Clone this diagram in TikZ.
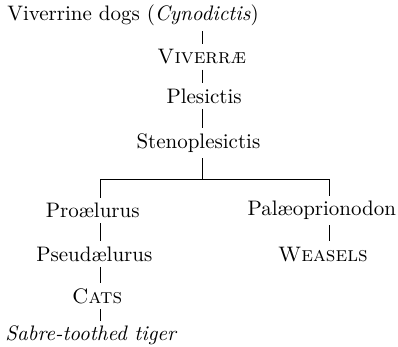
\documentclass[tikz,border=0pt]{standalone}
\usetikzlibrary{positioning,calc}
\begin{document}
\begin{tikzpicture}[
    taxon/.style={inner sep=2.5pt, font=\fontsize{10.5}{12.6}\selectfont},
    link/.style={line width=0.5pt, black}
  ]
  \useasboundingbox (0,0) rectangle (7.0,-6.1);

  %% Stem positions (x-coords of the vertical lines)
  \def\xL{1.76}
  \def\xM{3.57}
  \def\xR{5.80}
  \coordinate (stemL) at (\xL,0);
  \coordinate (stemM) at (\xM,0);
  \coordinate (stemR) at (\xR,0);

  %% Main stem
  \node[taxon] (dogs)  at (2.34,-0.27) {Viverrine dogs (\textit{Cynodictis})};
  \node[taxon] (viv)   at (3.55,-1.00) {\textsc{Viverr\ae}};
  \node[taxon] (ples)  at (3.59,-1.69) {Plesictis};
  \node[taxon] (steno) at (3.49,-2.52) {Stenoplesictis};

  %% Fork point
  \coordinate (fork) at (\xM,-3.15);

  %% Left branch (cats)
  \node[taxon] (pro)    at (1.63,-3.70) {Pro\ae lurus};
  \node[taxon] (pseudo) at (1.66,-4.47) {Pseud\ae lurus};
  \node[taxon] (cats)   at (1.71,-5.21) {\textsc{Cats}};
  \node[taxon, anchor=west] (sabre) at (0.0,-5.90) {\textit{Sabre-toothed tiger}};

  %% Right branch (weasels)
  \node[taxon, anchor=east] (palaeo) at (7.06,-3.70) {Pal\ae oprionodon};
  \node[taxon] (weasel) at (5.68,-4.47) {\textsc{Weasels}};

  %% Connections
  \draw[link] (stemM |- dogs.south) -- (stemM |- viv.north);
  \draw[link] (stemM |- viv.south) -- (stemM |- ples.north);
  \draw[link] (stemM |- ples.south) -- (stemM |- steno.north);
  \draw[link] (stemM |- steno.south) -- (fork);
  \draw[link] (stemL |- pro.north) |- (fork) -| (stemR |- palaeo.north);
  \draw[link] (stemL |- pro.south) -- (stemL |- pseudo.north);
  \draw[link] (stemL |- pseudo.south) -- (stemL |- cats.north);
  \draw[link] (stemL |- cats.south) -- (stemL |- sabre.north);
  \draw[link] (stemR |- palaeo.south) -- (stemR |- weasel.north);

\end{tikzpicture}
\end{document}
